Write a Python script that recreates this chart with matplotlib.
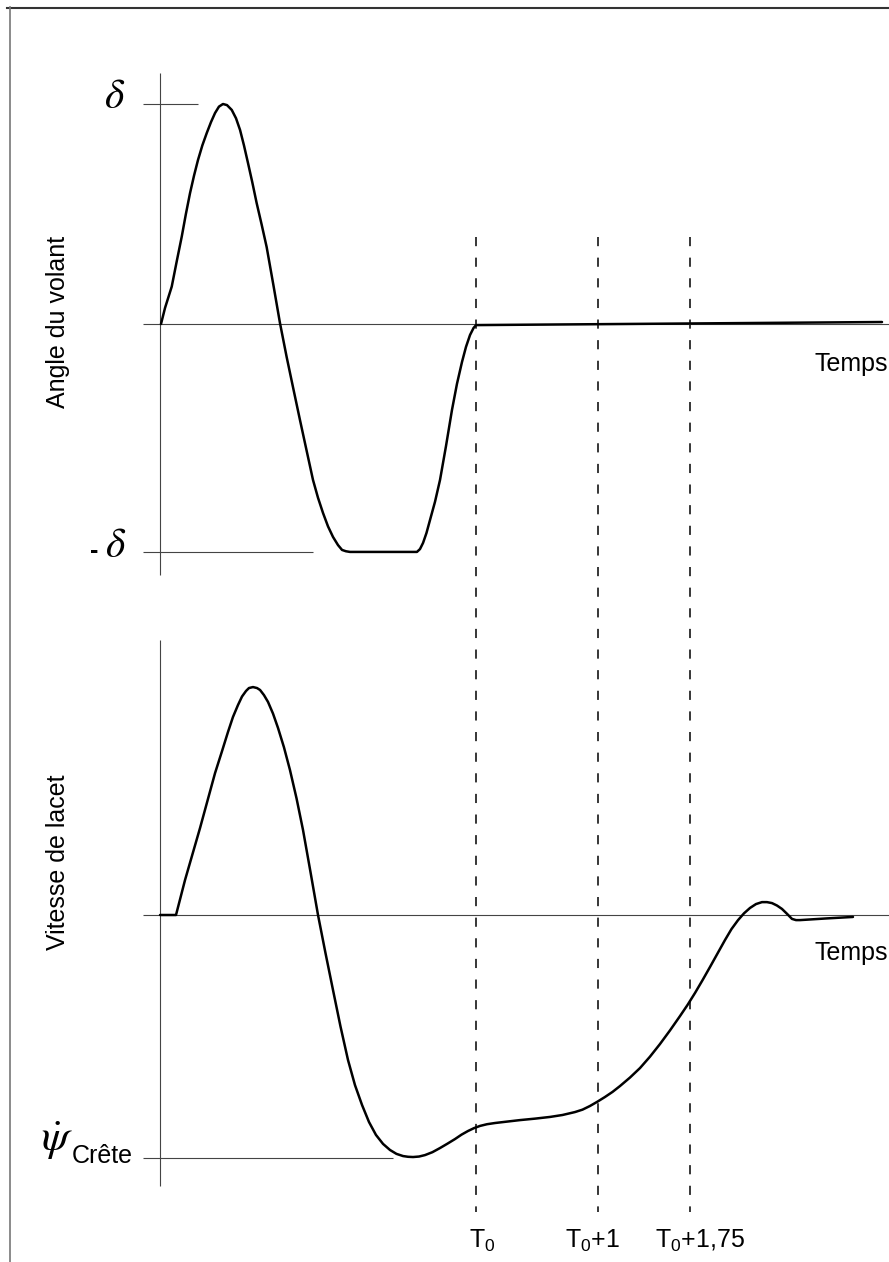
import numpy as np
import matplotlib
matplotlib.use("Agg")
import matplotlib.pyplot as plt
from matplotlib.lines import Line2D

plt.rcParams["font.family"] = ["Liberation Sans", "DejaVu Sans"]
plt.rcParams["mathtext.fontset"] = "custom"
plt.rcParams["mathtext.rm"] = "Liberation Sans"
plt.rcParams["mathtext.it"] = "Liberation Sans:italic"

# time in s, T0 = 0
t_origin = -2.59
t_marks = [0.0, 1.0, 1.75]
t_labels = ["T$_{\\mathrm{0}}$", "T$_{\\mathrm{0}}$+1", "T$_{\\mathrm{0}}$+1,75"]

# steering wheel angle (delta = 1)
delta_pos = 1.0
delta_neg = -1.036
steer_t = [-2.582, -2.549, -2.494, -2.453, -2.412, -2.378, -2.344, -2.311, -2.279, -2.243,
           -2.207, -2.172, -2.139, -2.107, -2.074, -2.041, -2.002, -1.967, -1.934, -1.902,
           -1.869, -1.834, -1.798, -1.757, -1.716, -1.661, -1.607, -1.552, -1.497, -1.443,
           -1.389, -1.336, -1.295, -1.254, -1.213, -1.172, -1.131, -1.098, -1.066, -1.033,
           -0.484, -0.459, -0.434, -0.406, -0.377, -0.336, -0.295, -0.246, -0.197, -0.156,
           -0.115, -0.082, -0.049, -0.020, 0.0, 3.328]
steer_v = [0.0, 0.073, 0.170, 0.285, 0.397, 0.500, 0.595, 0.675, 0.745, 0.812,
           0.868, 0.918, 0.959, 0.988, 1.0, 0.995, 0.973, 0.935, 0.882, 0.812,
           0.732, 0.645, 0.55, 0.452, 0.35, 0.178, 0.005, -0.15, -0.295, -0.436,
           -0.574, -0.709, -0.790, -0.859, -0.920, -0.968, -1.005, -1.027, -1.033, -1.036,
           -1.036, -1.023, -0.995, -0.950, -0.891, -0.808, -0.709, -0.555, -0.391, -0.272,
           -0.173, -0.104, -0.05, -0.018, -0.005, 0.009]

# yaw rate (peak = -1)
yaw_peak = -1.0
yaw_t = [-2.590, -2.459, -2.385, -2.262, -2.139, -2.082, -2.033, -1.992, -1.951, -1.918,
         -1.885, -1.861, -1.828, -1.795, -1.770, -1.738, -1.705, -1.664, -1.623, -1.574,
         -1.525, -1.471, -1.418, -1.357, -1.295, -1.234, -1.172, -1.111, -1.049, -0.992,
         -0.934, -0.877, -0.820, -0.762, -0.705, -0.652, -0.598, -0.557, -0.516, -0.467,
         -0.418, -0.357, -0.295, -0.234, -0.172, -0.119, -0.066, -0.016, 0.033, 0.090,
         0.156, 0.258, 0.361, 0.484, 0.607, 0.709, 0.811, 0.873, 0.934, 0.996,
         1.057, 1.119, 1.180, 1.262, 1.344, 1.426, 1.508, 1.590, 1.672, 1.734,
         1.795, 1.857, 1.918, 1.980, 2.041, 2.094, 2.148, 2.197, 2.246, 2.295,
         2.344, 2.385, 2.426, 2.467, 2.508, 2.549, 2.590, 2.623, 2.656, 2.877, 3.090]
yaw_v = [0.0, 0.0, 0.144, 0.358, 0.584, 0.674, 0.753, 0.815, 0.864, 0.899,
         0.922, 0.934, 0.938, 0.934, 0.926, 0.905, 0.877, 0.829, 0.770, 0.690,
         0.597, 0.480, 0.350, 0.178, 0.0, -0.156, -0.309, -0.458, -0.597, -0.700,
         -0.782, -0.852, -0.905, -0.942, -0.967, -0.983, -0.992, -0.995, -0.996, -0.994,
         -0.988, -0.976, -0.959, -0.941, -0.922, -0.904, -0.889, -0.877, -0.868, -0.861,
         -0.856, -0.850, -0.844, -0.838, -0.831, -0.823, -0.811, -0.801, -0.786, -0.768,
         -0.749, -0.728, -0.704, -0.669, -0.630, -0.583, -0.531, -0.475, -0.416, -0.370,
         -0.321, -0.268, -0.214, -0.158, -0.103, -0.058, -0.021, 0.007, 0.029, 0.045,
         0.053, 0.053, 0.049, 0.039, 0.025, 0.005, -0.016, -0.021, -0.021, -0.014, -0.008]

W, H = 889, 1262
fig = plt.figure(figsize=(W / 100, H / 100), dpi=100)
xlim = (-476 / 122, 413 / 122)


def px(x, y):
    return x / W, 1 - y / H


axis_col = "#444444"
curve_kw = dict(color="black", lw=1.8, solid_capstyle="round", solid_joinstyle="round")

# overlay (x in s, y in px) for dashed lines
ax0 = fig.add_axes([0, 0, 1, 1])
ax0.set_xlim(*xlim)
ax0.set_ylim(H, 0)
ax0.axis("off")
ax0.vlines(t_marks, 237, 1212, colors="black", lw=1.1, linestyles=(0, (6, 7.5)))

# top panel
ax1 = fig.add_axes([0, 1 - 600 / H, 1, 540 / H])
ax1.set_xlim(*xlim)
ax1.set_ylim(-276 / 220, 264 / 220)
ax1.axis("off")
ax1.patch.set_alpha(0)
ax1.vlines(t_origin, -1.141, 1.141, colors=axis_col, lw=0.8)
ax1.hlines(0, -2.73, xlim[1], colors=axis_col, lw=0.8)
ax1.hlines(delta_pos, -2.73, -2.279, colors=axis_col, lw=0.8)
ax1.hlines(delta_neg, -2.73, -1.336, colors=axis_col, lw=0.8)
ax1.plot(steer_t, steer_v, **curve_kw)

# bottom panel
ax2 = fig.add_axes([0, 0, 1, 642 / H])
ax2.set_xlim(*xlim)
ax2.set_ylim(-347 / 243, 295 / 243)
ax2.axis("off")
ax2.patch.set_alpha(0)
ax2.vlines(t_origin, -1.115, 1.132, colors=axis_col, lw=0.8)
ax2.hlines(0, -2.73, xlim[1], colors=axis_col, lw=0.8)
ax2.hlines(yaw_peak, -2.73, -0.680, colors=axis_col, lw=0.8)
ax2.plot(yaw_t, yaw_v, **curve_kw)

# frame
fig.add_artist(Line2D([7 / W, 1], [1 - 7.5 / H] * 2, color="#333333", lw=1.5))
fig.add_artist(Line2D([9.5 / W] * 2, [0, 1 - 7 / H], color="#777777", lw=1.2))

fs = 18
fig.text(*px(58, 322), "Angle du volant", rotation=90, ha="center", va="center", fontsize=fs)
fig.text(*px(58, 862), "Vitesse de lacet", rotation=90, ha="center", va="center", fontsize=fs)
fig.text(*px(888, 371), "Temps", ha="right", va="baseline", fontsize=fs)
fig.text(*px(888, 960), "Temps", ha="right", va="baseline", fontsize=fs)

fig.text(*px(115, 97), r"$\delta$", ha="center", va="center", fontsize=30, math_fontfamily="stix")
fig.text(*px(116, 546), r"$\delta$", ha="center", va="center", fontsize=30, math_fontfamily="stix")
fig.text(*px(94, 551), "-", ha="center", va="center", fontsize=18, fontweight="bold")
fig.text(*px(57, 1141), r"$\dot{\psi}$", ha="center", va="center", fontsize=32, math_fontfamily="stix")
fig.text(*px(72, 1163), "Crête", ha="left", va="baseline", fontsize=fs)

for x, lab in zip([469, 565, 655], t_labels):
    fig.text(*px(x, 1248), lab, ha="left", va="baseline", fontsize=fs)

fig.savefig("out.png", dpi=100)
